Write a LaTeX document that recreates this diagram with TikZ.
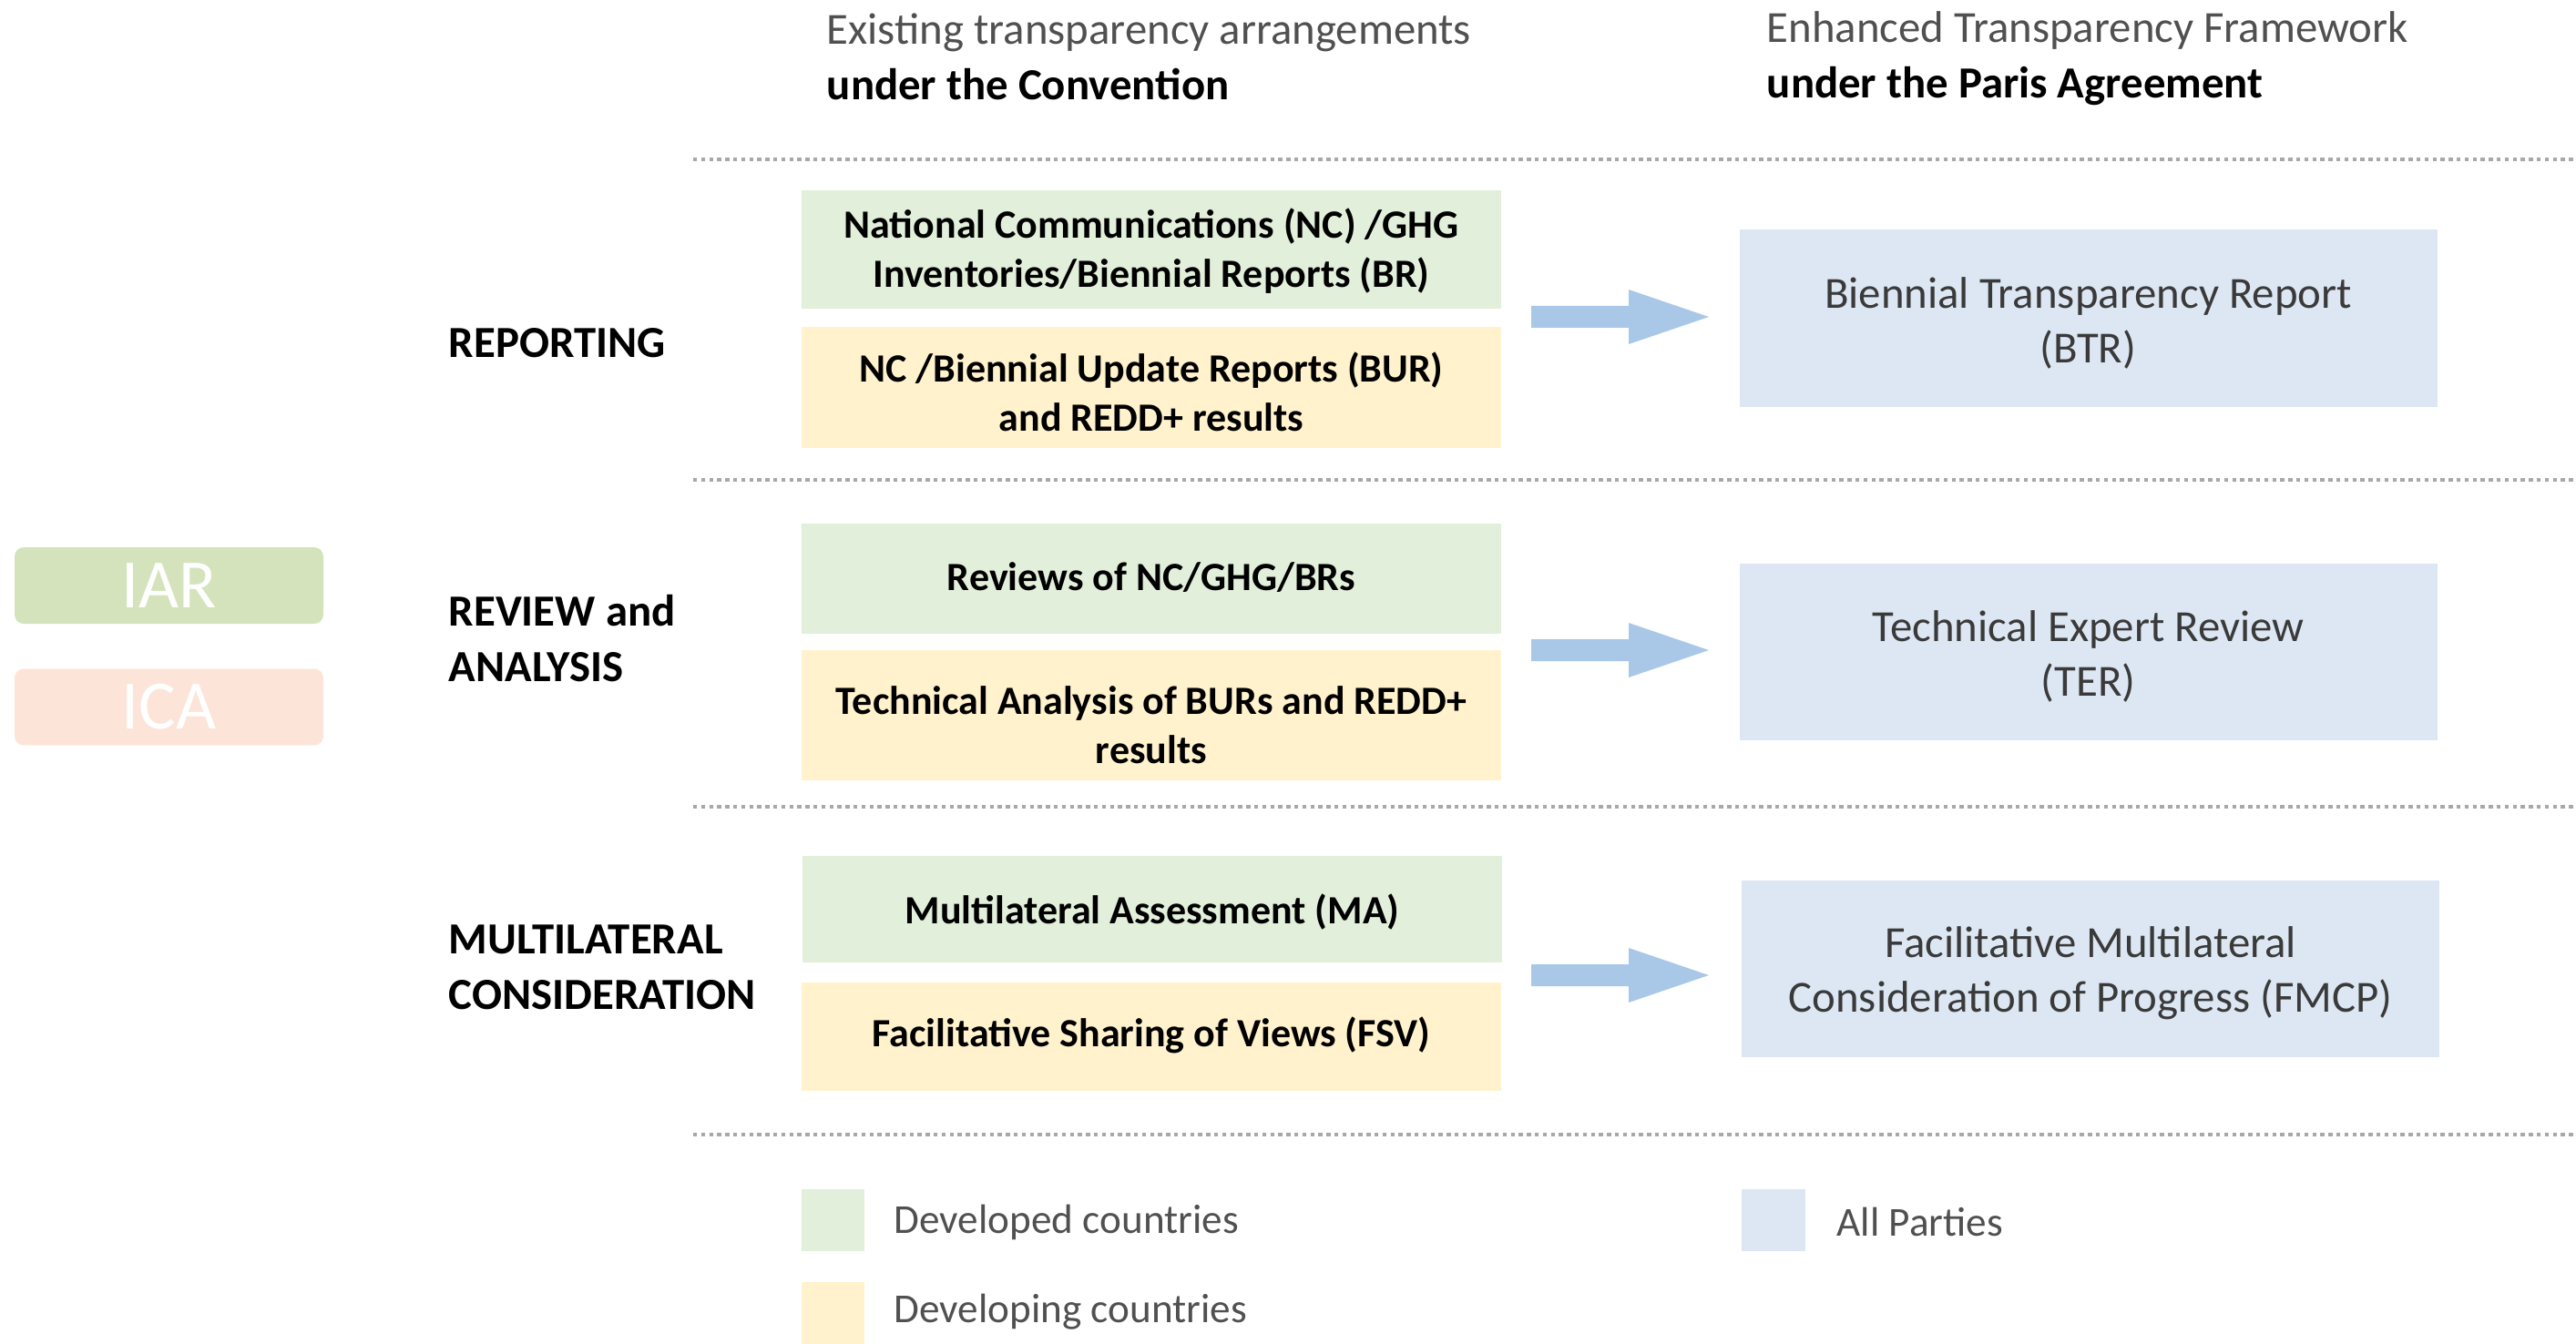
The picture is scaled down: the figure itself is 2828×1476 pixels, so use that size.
\documentclass[tikz,border=0pt]{standalone}
\usepackage{fontspec}
\setmainfont{Carlito}
\definecolor{devgreen}{HTML}{E2EFDA}
\definecolor{devyellow}{HTML}{FFF2CC}
\definecolor{allblue}{HTML}{DDE7F3}
\definecolor{arrowblue}{HTML}{A9C8E8}
\definecolor{iargreen}{HTML}{D5E3BC}
\definecolor{icapeach}{HTML}{FCE5D8}
\definecolor{headgray}{HTML}{505050}
\definecolor{bluetext}{HTML}{3A3A3A}
\definecolor{sepgray}{HTML}{A8A8A8}
\begin{document}
\begin{tikzpicture}[x=0.25pt,y=-0.25pt,
  leftbox/.style={inner sep=0pt, draw=none, minimum width=192pt},
  lefttext/.style={inner sep=0pt, align=center, text=black,
    font=\bfseries\fontsize{11}{13.5}\selectfont},
  greenbox/.style={leftbox, fill=devgreen},
  yellowbox/.style={leftbox, fill=devyellow},
  bluebox/.style={inner sep=0pt, draw=none, fill=allblue,
    minimum width=191.5pt, minimum height=48.6pt},
  bluetxt/.style={inner sep=0pt, align=center, text=bluetext,
    font=\fontsize{12.2}{15}\selectfont},
  sectlabel/.style={anchor=west, align=left, inner sep=0pt, text=black,
    font=\bfseries\fontsize{12.2}{15.25}\selectfont},
  headtext/.style={anchor=west, align=left, inner sep=0pt,
    font=\fontsize{12.2}{15.2}\selectfont},
  legtext/.style={anchor=west, inner sep=0pt, text=headgray, font=\fontsize{11.3}{14}\selectfont},
  tagbox/.style={inner sep=0pt, draw=none, rounded corners=2.5pt, text=white,
    minimum width=84.75pt, minimum height=21pt, font=\fontsize{19}{22}\selectfont},
  legbox/.style={inner sep=0pt, draw=none, minimum width=17.3pt, minimum height=17pt},
  sepline/.style={draw=sepgray, line width=1pt, dash pattern=on 1.1pt off 1.1pt},
  blockarrow/.style={fill=arrowblue, draw=none}
]
\useasboundingbox (0,0) rectangle (2828,1476);

% headers
\node[headtext] (h1) at (907,62) {\textcolor{headgray}{Existing transparency arrangements}\\\textbf{under the Convention}};
\node[headtext] (h2) at (1939,64) {\textcolor{headgray}{Enhanced Transparency Framework}\\\textbf{under the Paris Agreement}};

% separators
\coordinate (s1a) at (761,175); \coordinate (s1b) at (2828,175);
\coordinate (s2a) at (761,527); \coordinate (s2b) at (2828,527);
\coordinate (s3a) at (761,886); \coordinate (s3b) at (2828,886);
\coordinate (s4a) at (761,1246); \coordinate (s4b) at (2828,1246);
\draw[sepline] (s1a) -- (s1b);
\draw[sepline] (s2a) -- (s2b);
\draw[sepline] (s3a) -- (s3b);
\draw[sepline] (s4a) -- (s4b);

% tags
\node[tagbox, fill=iargreen] (iar) at (185.5,643) {IAR};
\node[tagbox, fill=icapeach] (ica) at (185.5,776.5) {ICA};

% section labels
\node[sectlabel] (rep) at (492,377) {REPORTING};
\node[sectlabel] (rev) at (492,701) {REVIEW and\\ANALYSIS};
\node[sectlabel] (mul) at (492,1062) {MULTILATERAL\\CONSIDERATION};

% reporting
\node[greenbox, minimum height=32.5pt] (nc) at (1264,274) {};
\node[lefttext] (nct) at ([yshift=-0.4pt]nc.center) {National Communications (NC) /GHG\\Inventories/Biennial Reports (BR)};
\node[yellowbox, minimum height=33.25pt] (bur) at (1264,425.5) {};
\node[lefttext] (burt) at ([yshift=-1.3pt]bur.center) {NC /Biennial Update Reports (BUR)\\and REDD+ results};
\node[bluebox] (btr) at (2292.5,349.5) {};
\node[bluetxt] (btrt) at ([yshift=-1.3pt]btr.center) {Biennial Transparency Report\\(BTR)};

% review
\node[greenbox, minimum height=30.25pt] (revw) at (1264,635.5) {};
\node[lefttext] (revwt) at ([yshift=0.3pt]revw.center) {Reviews of NC/GHG/BRs};
\node[yellowbox, minimum height=35.75pt] (ta) at (1264,785.5) {};
\node[lefttext] (tat) at ([yshift=-2.8pt]ta.center) {Technical Analysis of BURs and REDD+\\results};
\node[bluebox] (ter) at (2292.5,716) {};
\node[bluetxt] (tert) at ([yshift=-1.3pt]ter.center) {Technical Expert Review\\(TER)};

% multilateral
\node[greenbox, minimum height=29.25pt] (ma) at (1265,998.5) {};
\node[lefttext] (mat) at ([yshift=-0.8pt]ma.center) {Multilateral Assessment (MA)};
\node[yellowbox, minimum height=29.75pt] (fsv) at (1264,1138.5) {};
\node[lefttext] (fsvt) at ([yshift=0.3pt]fsv.center) {Facilitative Sharing of Views (FSV)};
\node[bluebox] (fmcp) at (2295,1064) {};
\node[bluetxt] (fmcpt) at ([yshift=-1.3pt]fmcp.center) {Facilitative Multilateral\\Consideration of Progress (FMCP)};

% block arrows
\foreach \c in {348,714,1071}{
  \fill[blockarrow] (1681,\c-12) -- (1788,\c-12) -- (1788,\c-30) -- (1876,\c)
    -- (1788,\c+30) -- (1788,\c+12) -- (1681,\c+12) -- cycle;
}

% legend
\node[legbox, fill=devgreen] (lg1) at (914.5,1340) {};
\node[legbox, fill=devyellow] (lg2) at (914.5,1442) {};
\node[legbox, fill=allblue] (lg3) at (1947,1340) {};
\node[legtext] (lt1) at (981,1342) {Developed countries};
\node[legtext] (lt2) at (981,1441) {Developing countries};
\node[legtext] (lt3) at (2016,1342) {All Parties};
\end{tikzpicture}
\end{document}
